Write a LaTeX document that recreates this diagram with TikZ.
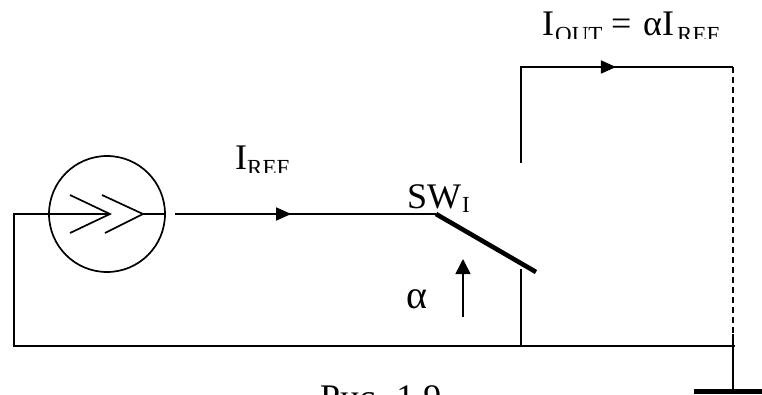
\documentclass[tikz,border=0pt]{standalone}
\usepackage{fontspec}
\setmainfont{Liberation Serif}
\usetikzlibrary{arrows.meta,decorations.markings}
\tikzset{
  wire/.style={line width=1.7pt},
  thin wire/.style={line width=1.5pt},
  arrowed/.style={wire,postaction={decorate},decoration={markings,mark=at position #1 with {\arrow{Triangle[length=15pt,width=13pt]}}}},
  lbl/.style={inner sep=0pt,font=\fontsize{36}{38}\selectfont,anchor=base west},
  sub/.style={inner sep=0pt,font=\fontsize{23}{25}\selectfont,anchor=base west}
}
\begin{document}
\begin{tikzpicture}[x=1pt,y=-1pt]
\useasboundingbox (0,0) rectangle (762,394);
% source
\node[draw,circle,wire,minimum size=116pt,inner sep=0pt] (src) at (107,214) {};
\coordinate (retTL) at (14,214);
\coordinate (retBL) at (14,346);
\coordinate (tip1) at (110,214);
\coordinate (tip2) at (143,214);
\coordinate (srcOut) at (164,214);
\coordinate (wireStart) at (175,214);
\coordinate (swA) at (436,214);
\coordinate (swB) at (536,272);
\coordinate (contact) at (521,269);
\coordinate (busC) at (521,346);
\coordinate (gnd) at (735,346);
\coordinate (outB) at (521,163);
\coordinate (outTL) at (521,67);
\coordinate (outTR) at (733,67);
\draw[wire] (tip1) -- (retTL) -- (retBL) -- (gnd);
\draw[wire] (70,195) -- (tip1) -- (70,233);
\draw[wire] (102,195) -- (tip2) -- (105,233);
\draw[wire] (tip2) -- (srcOut);
\draw[arrowed=0.445] (wireStart) -- (swA);
\draw[line width=4.6pt] (swA) -- (swB);
\draw[wire] (contact) -- (busC);
\draw[arrowed=0.62,line join=miter] (outB) -- (outTL) -- (outTR);
\coordinate (gndTop) at (733,334);
\coordinate (gndBot) at (733,390);
\draw[wire,dash pattern=on 6pt off 4pt] (outTR) -- (gndTop);
\draw[wire] (gndTop) -- (gndBot);
\fill (694,389) rectangle (762,394);
\coordinate (alphaA) at (463,317);
\coordinate (alphaB) at (463,259);
\draw[thin wire,-{Triangle[length=15pt,width=15pt]}] (alphaA) -- (alphaB);
% labels
\node[lbl] (iref) at (235,169) {I};
\node[sub] (irefs) at (247,175) {REF};
\node[lbl] (iout) at (542,35) {I};
\node[sub] (iouts) at (555,42) {OUT};
\node[lbl] (eq) at (611,35) {=};
\node[lbl] (al) at (643,35) {αI};
\node[sub] (eqs) at (677,42) {REF};
\node[lbl] (sw) at (407,208) {SW};
\node[sub] (sws) at (462,212) {I};
\node[lbl,font=\fontsize{40}{42}\selectfont] (alpha) at (406,308) {α};
\node[lbl] (fig) at (320,409) {Рис. 1.9};
\fill[white] (225,172.7) rectangle (300,182);
\fill[white] (530,38.5) rectangle (740,47);
\end{tikzpicture}
\end{document}
